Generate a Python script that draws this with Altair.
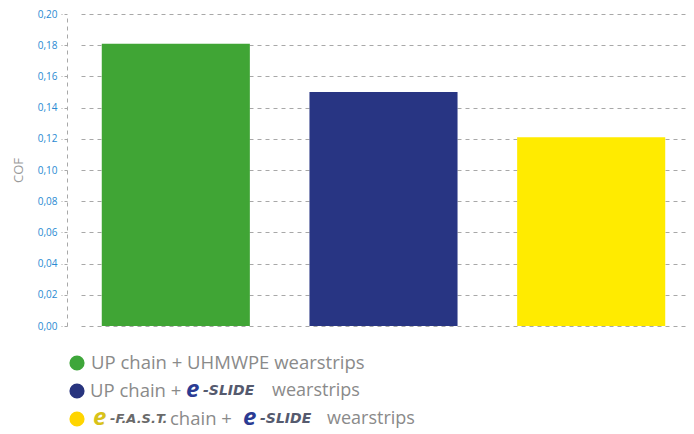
import altair as alt
import pandas as pd

categories = ["UP chain + UHMWPE wearstrips",
              "UP chain + e-SLIDE wearstrips",
              "e-F.A.S.T. chain + e-SLIDE wearstrips"]
cof_values = [0.181, 0.150, 0.121]
bar_colors = ["#40a535", "#283583", "#ffeb00"]
legend_dot_colors = ["#3ea63a", "#28347e", "#ffd500"]
y_ticks = [0.0, 0.02, 0.04, 0.06, 0.08, 0.10, 0.12, 0.14, 0.16, 0.18, 0.20]

df = pd.DataFrame({"cat": categories, "cof": cof_values, "color": bar_colors})

W, H = 619, 312
FONT = "Open Sans"
GRAY = "#8a8a8a"

bars = alt.Chart(df).mark_bar().encode(
    x=alt.X("cat:N", sort=categories, title=None,
            scale=alt.Scale(paddingInner=0.287, paddingOuter=0.1, range=[14, 619]),
            axis=None),
    y=alt.Y("cof:Q", title="COF",
            scale=alt.Scale(domain=[0, 0.2], nice=False),
            axis=alt.Axis(values=y_ticks,
                          labelExpr="replace(format(datum.value, '.2f'), '.', ',')",
                          labelColor="#2a8ad2", labelFont=FONT, labelFontSize=10,
                          labelPadding=4,
                          grid=True, gridColor="#a8a8a8", gridDash=[4, 4], gridWidth=1,
                          domain=True, domainColor="#a8a8a8", domainDash=[4, 4],
                          ticks=True, tickColor="#a8a8a8", tickSize=6, tickDash=[3, 2],
                          titleColor="#9a9a9a", titleFont=FONT, titleFontSize=13,
                          titleFontWeight="normal", titlePadding=12)),
    color=alt.Color("color:N", scale=None),
)

one = pd.DataFrame({"a": [0]})

def txt(s, x, y, size=18, color=GRAY, weight="normal", style="normal", font=FONT):
    return alt.Chart(one).mark_text(
        align="left", baseline="middle", font=font, fontSize=size,
        color=color, fontWeight=weight, fontStyle=style,
    ).encode(x=alt.value(x), y=alt.value(y), text=alt.value(s))

def dot(color, x, y):
    return alt.Chart(one).mark_point(filled=True, shape="circle", size=230,
                                     color=color, opacity=1).encode(
        x=alt.value(x), y=alt.value(y))

SLIDE_BLUE = "#2b3b93"
LOGO_GRAY = "#555a6e"
DV = "DejaVu Sans"
r1, r2, r3 = 349, 377, 405
layers = [
    bars,
    dot(legend_dot_colors[0], 10, r1),
    txt("UP chain + UHMWPE wearstrips", 24, r1, size=18.5),
    dot(legend_dot_colors[1], 10, r2),
    txt("UP chain +", 23, r2, size=18.5),
    txt("e", 119, r2 - 1, size=24, color=SLIDE_BLUE, weight="bold", style="italic"),
    txt("-SLIDE", 136, r2, size=14, color=LOGO_GRAY, weight="bold", style="italic", font=DV),
    txt("wearstrips", 205, r2, size=18),
    dot(legend_dot_colors[2], 10, r3),
    txt("e", 26, r3 - 1, size=24, color="#d8c21a", weight="bold", style="italic"),
    txt("-F.A.S.T.", 43, r3, size=13, color="#6a6a6a", weight="bold", style="italic", font=DV),
    txt("chain +", 103, r3, size=18.5),
    txt("e", 176, r3 - 1, size=24, color=SLIDE_BLUE, weight="bold", style="italic"),
    txt("-SLIDE", 193, r3, size=14, color=LOGO_GRAY, weight="bold", style="italic", font=DV),
    txt("wearstrips", 260, r3, size=18),
]

chart = alt.layer(*layers).properties(
    width=W, height=H,
    autosize=alt.AutoSizeParams(type="none"),
    padding={"left": 59, "top": 6, "right": 0, "bottom": 108},
).configure_view(stroke=None)

chart.save("out.html", embed_options={"renderer": "svg", "actions": False})
